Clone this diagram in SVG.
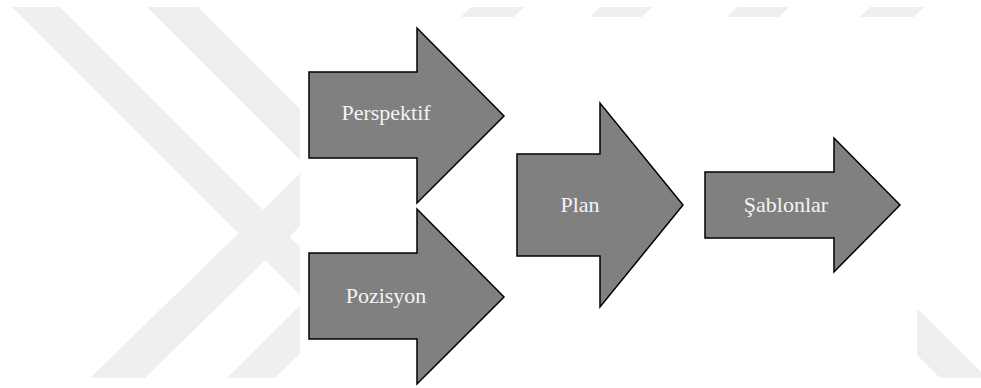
<svg xmlns="http://www.w3.org/2000/svg" width="981" height="388" viewBox="0 0 981 388">
  <style>
    .band { fill: #efefef; }
    .arrow { fill: #808080; stroke: #000000; stroke-width: 1.5; stroke-linejoin: miter; }
    .label { font-family: "Liberation Serif", "Times New Roman", serif; font-size: 22px; fill: #f4f4f4; text-anchor: middle; }
  </style>
  <defs>
    <clipPath id="wm-clip">
      <rect x="0" y="7" width="981" height="371"/>
    </clipPath>
  </defs>

  <!-- background watermark: diagonal bands, covered by the white panel -->
  <g id="watermark" clip-path="url(#wm-clip)">
    <polygon class="band" points="12,7 60,7 431,378 383,378"/>
    <polygon class="band" points="147,7 198,7 569,378 518,378"/>
    <polygon class="band" points="90,378 145,378 524,7 471,7"/>
    <polygon class="band" points="227,378 275,378 652,7 600,7"/>
    <polygon class="band" points="737,7 789,7 418,378 366,378"/>
    <polygon class="band" points="870,7 924,7 553,378 499,378"/>
    <polygon class="band" points="917,308 987,378 940,378 917,355"/>
  </g>
  <rect id="panel" x="300" y="17" width="617" height="371" fill="#ffffff"/>

  <g id="connectors"/>

  <g id="perspektif">
    <polygon class="arrow" points="309,72 417,72 417,28 504,116 417,203 417,158 309,158"/>
    <text class="label" x="386" y="120">Perspektif</text>
  </g>

  <g id="pozisyon">
    <polygon class="arrow" points="309,253 417,253 417,209 504,297 417,384 417,339 309,339"/>
    <text class="label" x="386" y="303">Pozisyon</text>
  </g>

  <g id="plan">
    <polygon class="arrow" points="517,154 600,154 600,103 683,205 600,307 600,256 517,256"/>
    <text class="label" x="580" y="212">Plan</text>
  </g>

  <g id="sablonlar">
    <polygon class="arrow" points="705,172 834,172 834,138 900,205 834,272 834,238 705,238"/>
    <text class="label" x="786" y="212">Şablonlar</text>
  </g>
</svg>
